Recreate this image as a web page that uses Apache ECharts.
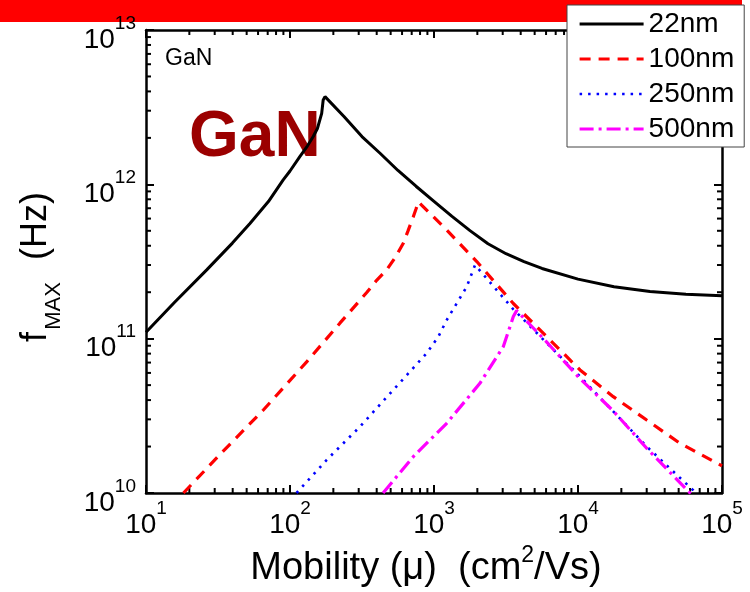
<!DOCTYPE html>
<html><head><meta charset="utf-8">
<script src="https://cdn.jsdelivr.net/npm/echarts@6/dist/echarts.min.js"></script>
<style>html,body{margin:0;padding:0;background:#fff}#c{width:750px;height:592px}</style>
</head><body><div id="c"></div>
<script>
// ---- axis ranges / tick labels ----
const xMin = 10, xMax = 100000;
const yMin = 1e10, yMax = 1e13;
const xTickValues = [10, 100, 1000, 10000, 100000];
const yTickValues = [1e10, 1e11, 1e12, 1e13];
const seriesNames = ['22nm', '100nm', '250nm', '500nm'];

// ---- series data (mobility cm^2/Vs, fMAX Hz) ----
const mob22  = [10, 15.8, 26.4, 39.8, 52.7, 70.8, 89.7, 100, 117, 132, 145, 155, 166, 170, 175, 237, 316, 422, 562, 750, 1000, 1334, 1778, 2371, 3162, 4217, 5623, 10000, 17783, 31623, 56234, 100000];
const fmax22 = [1.10e11, 1.72e11, 2.79e11, 4.16e11, 5.58e11, 7.73e11, 1.07e12, 1.22e12, 1.51e12, 1.77e12, 2.04e12, 2.30e12, 2.88e12, 3.52e12, 3.70e12, 2.75e12, 2.04e12, 1.59e12, 1.23e12, 9.72e11, 7.76e11, 6.20e11, 5.01e11, 4.12e11, 3.55e11, 3.16e11, 2.85e11, 2.43e11, 2.17e11, 2.02e11, 1.94e11, 1.90e11];

const mob100  = [18.2, 32.7, 65.3, 131, 222, 341, 398, 469, 537, 612, 661, 718, 750, 778, 1225, 1982, 3556, 6067, 10330, 17580, 29990, 51050, 100000];
const fmax100 = [1.0e10, 1.78e10, 3.45e10, 7.1e10, 1.26e11, 1.99e11, 2.38e11, 2.79e11, 3.35e11, 4.15e11, 5.01e11, 6.17e11, 6.92e11, 7.71e11, 5.06e11, 3.16e11, 1.69e11, 1.03e11, 6.27e10, 4.21e10, 2.97e10, 2.10e10, 1.50e10];

const mob250  = [111, 180, 306, 521, 889, 1072, 1225, 1687, 1928, 3556, 10330, 29990, 63240, 75000];
const fmax250 = [1.0e10, 1.64e10, 2.69e10, 4.65e10, 8.04e10, 1.03e11, 1.32e11, 2.17e11, 3.00e11, 1.55e11, 5.68e10, 2.0e10, 1.04e10, 8.5e9];

const mob500  = [443, 718, 1225, 2084, 3027, 3556, 3750, 6067, 10330, 17580, 29990, 60000, 70000];
const fmax500 = [1.0e10, 1.72e10, 2.83e10, 5.14e10, 8.87e10, 1.39e11, 1.52e11, 9.5e10, 5.5e10, 3.4e10, 1.95e10, 1.0e10, 8.5e9];

// minor tick values (2..9 x decade)
const minorMultipliers = [2, 3, 4, 5, 6, 7, 8, 9];
const xDecades = [10, 100, 1000, 10000];
const yDecades = [1e10, 1e11, 1e12];

const FONT = '"Liberation Sans", Arial, sans-serif';
const pair = (a, b) => a.map((v, i) => [v, b[i]]);

const xMinor = [];
xDecades.forEach(d => minorMultipliers.forEach(m => xMinor.push([d * m, yMin])));
const yMinor = [];
yDecades.forEach(d => minorMultipliers.forEach(m => yMinor.push([xMin, d * m])));

const expLabel = v => '{b|10}{s|' + Math.round(Math.log10(v)) + '}';
const labelRich = {
  b: { fontSize: 28, fontFamily: FONT, color: '#000', lineHeight: 40, verticalAlign: 'bottom' },
  s: { fontSize: 19, fontFamily: FONT, color: '#000', lineHeight: 19, verticalAlign: 'top' }
};

const axisCommon = {
  type: 'log', logBase: 10,
  axisLine: { show: true, onZero: false, lineStyle: { color: '#000', width: 2.5 } },
  axisTick: { show: true, inside: true, length: 8, lineStyle: { color: '#000', width: 2 } },
  splitLine: { show: false },
  minorTick: { show: false },
  minorSplitLine: { show: false }
};

const chart = echarts.init(document.getElementById('c'), null, { renderer: 'canvas' });

const lineCfg = [
  { color: '#000000', width: 3, type: 'solid' },
  { color: '#ff0000', width: 3.2, type: [11, 8] },
  { color: '#0000ff', width: 2.6, type: [2.5, 6] },
  { color: '#ff00ff', width: 3.2, type: [14, 5, 3, 5] }
];
const datasets = [pair(mob22, fmax22), pair(mob100, fmax100), pair(mob250, fmax250), pair(mob500, fmax500)];

const series = seriesNames.map((n, i) => ({
  name: n, type: 'line', data: datasets[i], symbol: 'none', smooth: false,
  xAxisIndex: 0, yAxisIndex: 0, z: 3,
  lineStyle: { color: lineCfg[i].color, width: lineCfg[i].width, type: lineCfg[i].type },
  itemStyle: { color: lineCfg[i].color },
  emphasis: { disabled: true }
}));

series.push({
  type: 'custom', name: 'xminor', xAxisIndex: 0, yAxisIndex: 0, data: xMinor, silent: true,
  renderItem: (params, api) => {
    const b = api.coord([api.value(0), yMin]);
    const t = api.coord([api.value(0), yMax]);
    return { type: 'group', children: [
      { type: 'line', shape: { x1: b[0], y1: b[1], x2: b[0], y2: b[1] - 5 }, style: { stroke: '#000', lineWidth: 2 } },
      { type: 'line', shape: { x1: t[0], y1: t[1], x2: t[0], y2: t[1] + 5 }, style: { stroke: '#000', lineWidth: 2 } }
    ] };
  }
});
series.push({
  type: 'custom', name: 'yminor', xAxisIndex: 0, yAxisIndex: 0, data: yMinor, silent: true,
  renderItem: (params, api) => {
    const l = api.coord([xMin, api.value(1)]);
    const r = api.coord([xMax, api.value(1)]);
    return { type: 'group', children: [
      { type: 'line', shape: { x1: l[0], y1: l[1], x2: l[0] + 5, y2: l[1] }, style: { stroke: '#000', lineWidth: 2 } },
      { type: 'line', shape: { x1: r[0], y1: r[1], x2: r[0] - 5, y2: r[1] }, style: { stroke: '#000', lineWidth: 2 } }
    ] };
  }
});

chart.setOption({
  animation: false,
  backgroundColor: '#fff',
  grid: { left: 146, top: 30, right: 28, bottom: 99, containLabel: false, outerBoundsMode: 'none' },
  xAxis: [
    Object.assign({}, axisCommon, { position: 'bottom', min: xMin, max: xMax,
      axisLabel: { show: true, margin: 6, formatter: expLabel, rich: labelRich,
        customValues: xTickValues } }),
    Object.assign({}, axisCommon, { position: 'top', min: xMin, max: xMax, axisLabel: { show: false } })
  ],
  yAxis: [
    Object.assign({}, axisCommon, { position: 'left', min: yMin, max: yMax,
      axisLabel: { show: true, margin: 10, padding: [8, 0, 0, 0], formatter: expLabel, rich: labelRich, customValues: yTickValues } }),
    Object.assign({}, axisCommon, { position: 'right', min: yMin, max: yMax, axisLabel: { show: false } })
  ],
  legend: {
    data: seriesNames, orient: 'vertical', left: 567, top: 5,
    backgroundColor: '#fff', borderColor: '#444', borderWidth: 1, borderRadius: 0,
    padding: [4, 10, 3, 11], itemWidth: 64, itemHeight: 14, itemGap: 5,
    itemStyle: { opacity: 0, borderWidth: 0 },
    lineStyle: { width: 'inherit' },
    textStyle: { fontSize: 28, fontFamily: FONT, color: '#000', lineHeight: 30 },
    selectedMode: false, z: 10
  },
  graphic: [
    { type: 'rect', left: 0, top: 0, z: -1, shape: { width: 742, height: 22 }, style: { fill: '#ff0000' } },
    { type: 'text', left: 165, top: 47, z: 1, style: { text: 'GaN', font: '23px ' + FONT, fill: '#000' } },
    { type: 'text', left: 189, top: 106, z: 1, style: { text: 'GaN', font: 'bold 64px ' + FONT, fill: '#9b0000' } },
    { type: 'text', x: 36, y: 226, rotation: Math.PI / 2, style: { text: '(Hz)', font: '36px ' + FONT, fill: '#000', align: 'center', verticalAlign: 'middle' } },
    { type: 'text', x: 36, y: 337, rotation: Math.PI / 2, style: { text: 'f', font: '36px ' + FONT, fill: '#000', align: 'center', verticalAlign: 'middle' } },
    { type: 'text', x: 54, y: 306, rotation: Math.PI / 2, style: { text: 'MAX', font: '22px ' + FONT, fill: '#000', align: 'center', verticalAlign: 'middle' } },
    { type: 'text', x: 426, y: 566, style: {
      text: '{a|Mobility (μ)  (cm}{s|2}{a|/Vs)}', align: 'center', verticalAlign: 'middle',
      rich: {
        a: { fontSize: 38, fontFamily: FONT, fill: '#000', lineHeight: 44, verticalAlign: 'bottom' },
        s: { fontSize: 23, fontFamily: FONT, fill: '#000', lineHeight: 23, verticalAlign: 'top' }
      } } }
  ],
  series: series
});
</script></body></html>
